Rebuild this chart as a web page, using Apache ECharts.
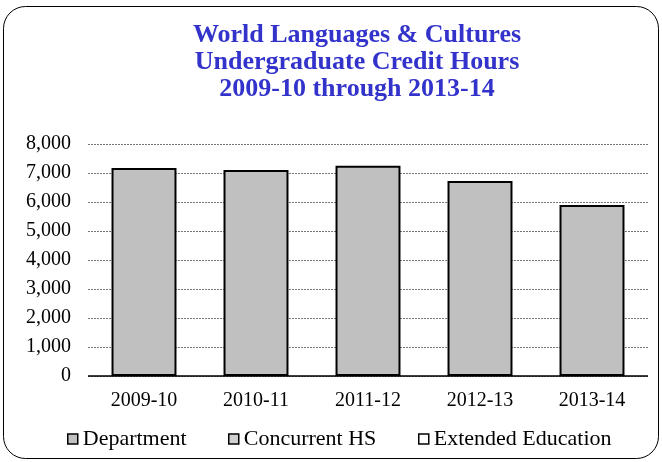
<!DOCTYPE html>
<html><head><meta charset="utf-8">
<script src="https://cdn.jsdelivr.net/npm/echarts@6/dist/echarts.min.js"></script>
<style>html,body{margin:0;padding:0;background:#fff}#c{width:662px;height:462px}</style>
</head><body><div id="c"></div>
<script>
const categories = ['2009-10','2010-11','2011-12','2012-13','2013-14'];
const department = [7170, 7100, 7250, 6720, 5900];
const concurrentHS = [0, 0, 0, 0, 0];
const extendedEducation = [0, 0, 0, 0, 0];
const titleLines = ['World Languages & Cultures','Undergraduate Credit Hours','2009-10 through 2013-14'];

const font = 'Liberation Serif';
const chart = echarts.init(document.getElementById('c'), null, {renderer:'canvas'});
const legendText = {fontFamily:font, fontSize:22, color:'#000'};
const legendBase = {top: 428, padding:0, itemWidth: 10, itemHeight: 10, itemGap: 6, icon:'rect',
  textStyle:legendText, selectedMode:false};
const legendBorder = {borderColor:'#000', borderWidth:1.5};
chart.setOption({
  animation:false,
  backgroundColor:'#fff',
  textStyle:{fontFamily:font},
  graphic:[{type:'rect', shape:{x:3.5,y:6.5,width:655,height:452,r:22},
    style:{fill:'none', stroke:'#000', lineWidth:1}, silent:true, z:-1}],
  title:{text:titleLines.join('\n'), left:352, textAlign:'center', top:17,
    textStyle:{fontFamily:font, fontSize:26, fontWeight:'bold', color:'#3333cc', lineHeight:27}},
  legend:[
    Object.assign({}, legendBase, {left:67, data:[{name:'Department', itemStyle:Object.assign({color:'#c0c0c0'}, legendBorder)}]}),
    Object.assign({}, legendBase, {left:228, data:[{name:'Concurrent HS', itemStyle:Object.assign({color:'#d0d0d0'}, legendBorder)}]}),
    Object.assign({}, legendBase, {left:418, data:[{name:'Extended Education', itemStyle:Object.assign({color:'#fff'}, legendBorder)}]})
  ],
  grid:{left:88, right:14, top:144, bottom:86},
  xAxis:{type:'category', data:categories,
    axisLine:{show:false}, axisTick:{show:false},
    axisLabel:{fontFamily:font, fontSize:20, color:'#000', margin:15}},
  yAxis:{type:'value', min:0, max:8000, interval:1000,
    axisLine:{show:false}, axisTick:{show:false},
    axisLabel:{fontFamily:font, fontSize:20, color:'#000', margin:17,
      formatter:v=>v.toLocaleString('en-US')},
    splitLine:{lineStyle:{color:'#777', type:[2,1], width:1}}},
  series:[
    {name:'Department', type:'bar', stack:'t', data:department, barWidth:'58%',
      itemStyle:{color:'#c0c0c0', borderColor:'#000', borderWidth:2}},
    {name:'Concurrent HS', type:'bar', stack:'t', data:concurrentHS,
      itemStyle:{color:'#d0d0d0', borderWidth:0}},
    {name:'Extended Education', type:'bar', stack:'t', data:extendedEducation,
      itemStyle:{color:'#fff', borderWidth:0}},
    {type:'line', data:[0,0,0,0,0], silent:true, symbol:'none', lineStyle:{width:0}, markLine:{silent:true, symbol:'none', label:{show:false},
      lineStyle:{color:'#000', type:'solid', width:1.5}, data:[{yAxis:0}]}}
  ]
});
</script></body></html>
